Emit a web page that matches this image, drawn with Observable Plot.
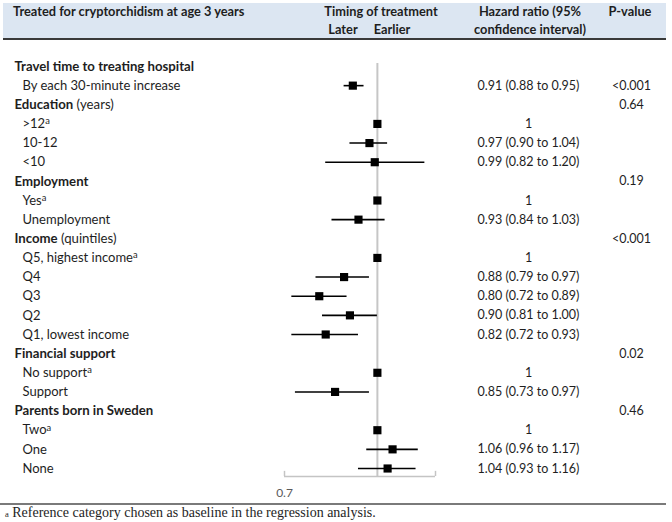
<!DOCTYPE html>
<html>
<head>
<meta charset="utf-8">
<script src="https://cdn.jsdelivr.net/npm/d3@7"></script>
<script src="https://cdn.jsdelivr.net/npm/@observablehq/plot@0.6"></script>
<style>
  html, body { margin: 0; padding: 0; background: white; }
  #wrap { position: relative; width: 672px; height: 522px; background: white; font-family: Lato, "Open Sans", sans-serif; color: #1e1e1e; overflow: hidden; }
  .hdr { position: absolute; font-size: 12.8px; font-weight: bold; white-space: nowrap; line-height: 15px; }
  .ctr { transform: translateX(-50%); text-align: center; }
  #chart { position: absolute; left: 0; top: 42px; }
</style>
</head>
<body>
<div id="wrap">
  <div style="position:absolute;left:3px;top:3px;width:663px;height:35px;background:#dce6f2;"></div>
  <div style="position:absolute;left:3px;top:38px;width:663px;height:2px;background:#3a3a3a;"></div>
  <div class="hdr" style="left:13px;top:4px;">Treated for cryptorchidism at age 3 years</div>
  <div class="hdr ctr" style="left:381px;top:4px;">Timing of treatment</div>
  <div class="hdr ctr" style="left:343px;top:22px;">Later</div>
  <div class="hdr ctr" style="left:392px;top:22px;">Earlier</div>
  <div class="hdr ctr" style="left:530px;top:4px;">Hazard ratio (95%</div>
  <div class="hdr ctr" style="left:530px;top:22px;">confidence interval)</div>
  <div class="hdr ctr" style="left:630px;top:4px;">P-value</div>
  <div id="chart"></div>
  <div style="position:absolute;left:0;top:503px;width:666px;height:1.5px;background:#7a7a7a;"></div>
  <div style="position:absolute;left:5px;top:505px;font-family:'Liberation Serif',serif;font-size:14px;white-space:nowrap;color:#1e1e1e;"><span style="font-size:8.5px;">a</span> Reference category chosen as baseline in the regression analysis.</div>
</div>
<script>
// ---- data ----
const labels = ["Travel time to treating hospital", "By each 30-minute increase", "Education", ">12", "10-12", "<10",
  "Employment", "Yes", "Unemployment", "Income", "Q5, highest income", "Q4", "Q3", "Q2", "Q1, lowest income",
  "Financial support", "No support", "Support", "Parents born in Sweden", "Two", "One", "None"];
const headingSuffix = [null, null, " (years)", null, null, null, "", null, null, " (quintiles)", null, null, null, null, null,
  "", null, null, "", null, null, null];
const isHeading = [true, false, true, false, false, false, true, false, false, true, false, false, false, false, false,
  true, false, false, true, false, false, false];
const isReference = [false, false, false, true, false, false, false, true, false, false, true, false, false, false, false,
  false, true, false, false, true, false, false];
const hr = [null, 0.91, null, 1, 0.97, 0.99, null, 1, 0.93, null, 1, 0.88, 0.80, 0.90, 0.82, null, 1, 0.85, null, 1, 1.06, 1.04];
const lo = [null, 0.88, null, null, 0.90, 0.82, null, null, 0.84, null, null, 0.79, 0.72, 0.81, 0.72, null, null, 0.73, null, null, 0.96, 0.93];
const hi = [null, 0.95, null, null, 1.04, 1.20, null, null, 1.03, null, null, 0.97, 0.89, 1.00, 0.93, null, null, 0.97, null, null, 1.17, 1.16];
const hrText = ["", "0.91 (0.88 to 0.95)", "", "1", "0.97 (0.90 to 1.04)", "0.99 (0.82 to 1.20)", "", "1", "0.93 (0.84 to 1.03)",
  "", "1", "0.88 (0.79 to 0.97)", "0.80 (0.72 to 0.89)", "0.90 (0.81 to 1.00)", "0.82 (0.72 to 0.93)", "", "1", "0.85 (0.73 to 0.97)",
  "", "1", "1.06 (0.96 to 1.17)", "1.04 (0.93 to 1.16)"];
const pText = ["", "<0.001", "0.64", "", "", "", "0.19", "", "", "<0.001", "", "", "", "", "", "0.02", "", "", "0.46", "", "", ""];
const xDomain = [0.7, 1.25];
const axisTickLabels = ["0.7"];
const refValue = 1;

// ---- table ----
const rows = labels.map((label, i) => ({
  i, label: headingSuffix[i] ? label + headingSuffix[i] : label,
  bold: label, suffix: headingSuffix[i] || "", heading: isHeading[i], ref: isReference[i],
  hr: hr[i], lo: lo[i], hi: hi[i], hrText: hrText[i], p: pText[i]
}));
const n = rows.length;
const axisY = 21.42;

const chart = Plot.plot({
  width: 672,
  height: 458,
  margin: 0,
  style: { fontFamily: "Lato, 'Open Sans', sans-serif", fontSize: "12.5px", color: "#1e1e1e", background: "transparent", overflow: "visible" },
  x: { type: "log", domain: xDomain, range: [284, 435], axis: null },
  y: { type: "linear", domain: [0, n - 1], range: [24, 426], axis: null },
  marks: [
    Plot.ruleX([refValue], { y1: -0.16, y2: axisY, stroke: "#c6c6c6", strokeWidth: 2 }),
    Plot.ruleY([axisY], { x1: xDomain[0], x2: xDomain[1], stroke: "#c4c4c4", strokeWidth: 1.5 }),
    Plot.ruleX(xDomain, { y1: axisY - 0.27, y2: axisY, stroke: "#c4c4c4", strokeWidth: 1.5 }),
    Plot.text(axisTickLabels, { x: d => +d, y: 22.3, text: d => d, fill: "#5a5a5a", textAnchor: "middle", fontSize: 12 }),
    Plot.ruleY(rows.filter(d => d.lo != null), { y: "i", x1: "lo", x2: "hi", stroke: "black", strokeWidth: 1.6 }),
    Plot.dot(rows.filter(d => d.hr != null), { x: "hr", y: "i", symbol: "square", r: 4.6, fill: "black", stroke: "none" }),
    Plot.text(rows.filter(d => d.heading), { y: "i", text: "label", frameAnchor: "left", dx: 14, textAnchor: "start", fontWeight: "bold", fontSize: 13.2 }),
    Plot.text(rows.filter(d => !d.heading), { y: "i", text: "label", frameAnchor: "left", dx: 22, textAnchor: "start", fontSize: 13 }),
    Plot.text(rows.filter(d => d.hrText), { y: "i", text: "hrText", frameAnchor: "left", dx: 528, textAnchor: "middle", fontSize: 12.5 }),
    Plot.text(rows.filter(d => d.p), { y: "i", text: "p", frameAnchor: "left", dx: 631, textAnchor: "middle", fontSize: 12.5 })
  ]
});

// rich text: bold heading + normal suffix, superscript "a" for reference categories
const byText = new Map(rows.map(d => [d.label, d]));
chart.querySelectorAll("text").forEach(t => {
  const d = byText.get(t.textContent);
  if (!d) return;
  if (d.heading && d.suffix) {
    t.textContent = "";
    const b = document.createElementNS("http://www.w3.org/2000/svg", "tspan");
    b.textContent = d.bold; b.setAttribute("font-weight", "bold");
    const s = document.createElementNS("http://www.w3.org/2000/svg", "tspan");
    s.textContent = d.suffix; s.setAttribute("font-weight", "normal");
    t.appendChild(b); t.appendChild(s);
  } else if (d.ref) {
    const s = document.createElementNS("http://www.w3.org/2000/svg", "tspan");
    s.textContent = "a"; s.setAttribute("font-size", "0.72em"); s.setAttribute("dy", "-0.4em");
    t.appendChild(s);
  }
});
document.getElementById("chart").appendChild(chart);
</script>
</body>
</html>
